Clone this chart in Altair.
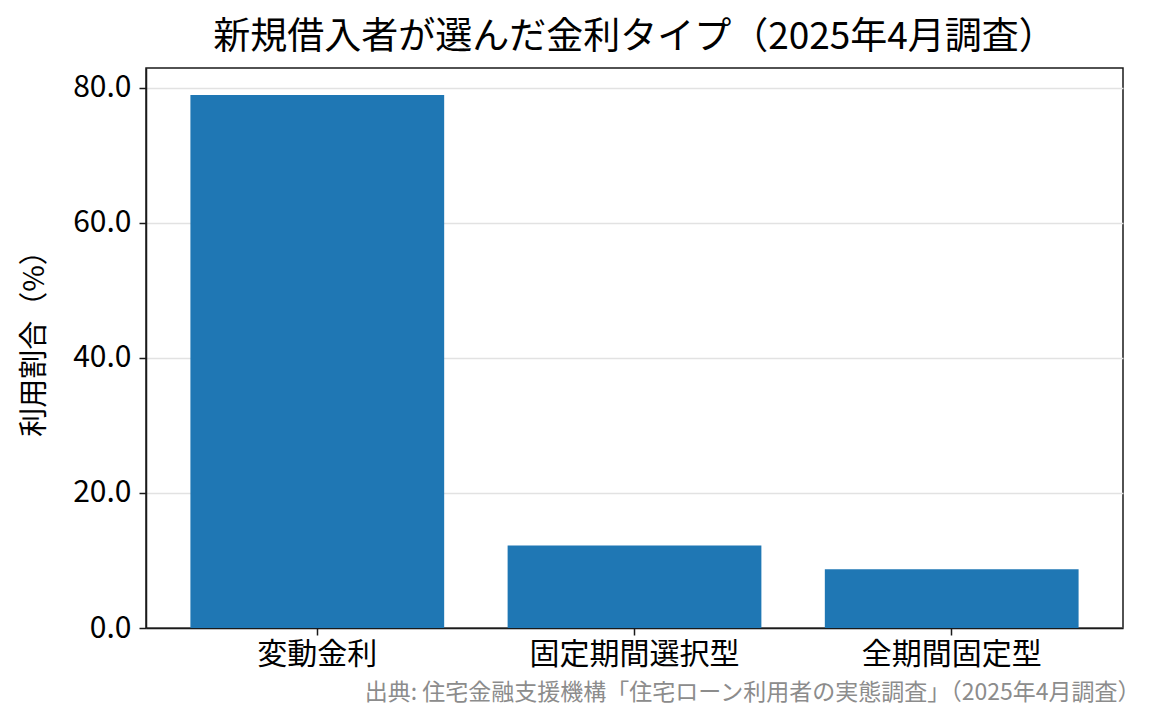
import altair as alt
import pandas as pd

categories = ["変動金利", "固定期間選択型", "全期間固定型"]
shares = [78.9, 12.2, 8.7]
y_ticks = [0, 20, 40, 60, 80]

title_text = "新規借入者が選んだ金利タイプ（2025年4月調査）"
y_title = "利用割合（%）"
source_text = "出典: 住宅金融支援機構「住宅ローン利用者の実態調査」（2025年4月調査）"

FONT = "Noto Sans CJK JP"

df = pd.DataFrame({"type": categories, "share": shares})

chart = (
    alt.Chart(df)
    .mark_bar(color="#1f77b4")
    .encode(
        x=alt.X(
            "type:N",
            sort=categories,
            scale=alt.Scale(paddingInner=0.2, paddingOuter=0.14),
            axis=alt.Axis(
                title=source_text,
                titleColor="#8c8c8c",
                titleFontSize=23,
                titleFontWeight="normal",
                titleFont=FONT,
                titleAnchor="end",
                titleAlign="right",
                titleX=994,
                titleY=64,
                titleBaseline="middle",
                labelAngle=0,
                labelFontSize=30,
                labelFont=FONT,
                labelColor="#000000",
                labelPadding=4,
                labelLimit=500,
                tickSize=7,
                tickColor="#1a1a1a",
                tickWidth=1.5,
                domainColor="#1a1a1a",
                domainWidth=1.5,
                grid=False,
            ),
        ),
        y=alt.Y(
            "share:Q",
            scale=alt.Scale(domain=[0, 82.9], nice=False, zero=True),
            axis=alt.Axis(
                title=y_title,
                titleFontSize=29,
                titleFontWeight="normal",
                titleFont=FONT,
                titleColor="#000000",
                titleX=-112,
                titleY=268,
                titleAlign="center",
                titleBaseline="middle",
                titleAngle=270,
                values=y_ticks,
                format=".1f",
                labelFontSize=30,
                labelFont=FONT,
                labelColor="#000000",
                labelPadding=8,
                tickSize=7,
                tickColor="#1a1a1a",
                tickWidth=1.5,
                domainColor="#1a1a1a",
                domainWidth=1.5,
                grid=True,
                gridColor="#e2e2e2",
                gridWidth=1.5,
            ),
        ),
    )
    .properties(
        width=977,
        height=560,
        autosize=alt.AutoSizeParams(type="none"),
        padding={"left": 138, "top": 60, "right": 34, "bottom": 80},
        title=alt.TitleParams(
            text=title_text,
            fontSize=37,
            font=FONT,
            fontWeight="normal",
            color="#000000",
            anchor="middle",
            offset=11,
        ),
    )
    .configure_view(stroke="#1a1a1a", strokeWidth=1.5)
)

chart.save("out.html", embed_options={"renderer": "svg", "actions": False})
